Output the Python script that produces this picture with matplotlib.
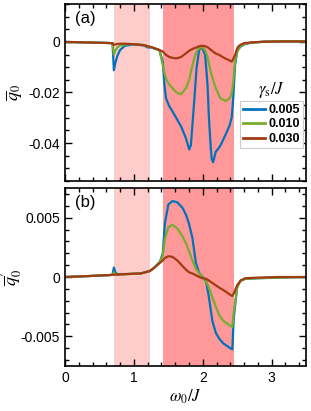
import matplotlib
matplotlib.use("Agg")
import matplotlib.pyplot as plt
from matplotlib.ticker import MultipleLocator, FixedLocator, FixedFormatter

plt.rcParams['font.family'] = ['Liberation Sans', 'DejaVu Sans']
plt.rcParams['mathtext.fontset'] = 'stix'
plt.rcParams['axes.unicode_minus'] = False

gammas = ['0.005', '0.010', '0.030']
colors = ['#0072BD', '#77AC30', '#A33A12']

# shaded bands (omega_0/J)
band_light = (0.71, 1.23)
band_strong = (1.42, 2.46)

# ---------- panel (a) ----------
xa = [0, 0.3, 0.6, 0.69, 0.71, 0.73, 0.76, 0.8, 0.87, 1.0, 1.15, 1.2, 1.25, 1.37,
      1.42, 1.443, 1.467, 1.51, 1.563, 1.61, 1.66, 1.684, 1.756, 1.804, 1.828, 1.876,
      1.91, 1.948, 1.987, 2.035, 2.07, 2.09, 2.117, 2.13, 2.15, 2.19, 2.237, 2.26,
      2.33, 2.39, 2.42, 2.44, 2.47, 2.50, 2.525, 2.55, 2.6, 2.7, 2.9, 3.2, 3.5]
qa_005 = [0, -0.0002, -0.0004, -0.0005, -0.0112, -0.0085, -0.0055, -0.0032, -0.0015,
          -0.0010, -0.0014, -0.0022, -0.0022, -0.0032,
          -0.0078, -0.017, -0.0223, -0.0252, -0.0276, -0.0298, -0.0322, -0.0333, -0.0381,
          -0.0425, -0.0408, -0.0236,
          -0.0104, -0.0032, -0.0019, -0.0051, -0.017, -0.030, -0.0420, -0.0461, -0.0476,
          -0.0434, -0.0418, -0.0408,
          -0.0368, -0.0330, -0.0300, -0.0236, -0.0091, -0.0038, -0.0026, -0.0019,
          -0.0010, -0.0003, 0.0001, 0.0002, 0.0002]
qa_010 = [0, -0.0002, -0.0004, -0.0005, -0.0050, -0.0035, -0.0022, -0.0014, -0.0010,
          -0.0009, -0.0012, -0.0018, -0.0020, -0.0032,
          -0.0091, -0.0122, -0.0144, -0.0168, -0.0183, -0.0198, -0.0205, -0.0207, -0.0183,
          -0.0150, -0.0118, -0.0065,
          -0.0040, -0.0025, -0.0019, -0.0033, -0.0060, -0.0085, -0.0118, -0.0132, -0.0150,
          -0.0183, -0.0212, -0.0223,
          -0.0234, -0.0223, -0.0205, -0.0170, -0.0078, -0.0040, -0.0025, -0.0017,
          -0.0009, -0.0003, 0.0001, 0.0002, 0.0002]
qa_030 = [0, -0.0002, -0.0004, -0.0005, -0.0012, -0.0010, -0.0008, -0.0007, -0.0007,
          -0.0009, -0.0013, -0.0017, -0.0020, -0.0032,
          -0.0038, -0.0045, -0.0051, -0.0059, -0.0063, -0.0065, -0.0062, -0.0060, -0.0045,
          -0.0035, -0.0031, -0.0025,
          -0.0022, -0.0017, -0.0015, -0.0017, -0.0021, -0.0025, -0.0031, -0.0034, -0.0038,
          -0.0046, -0.0051, -0.0055,
          -0.0066, -0.0073, -0.0078, -0.0070, -0.0051, -0.0025, -0.0016, -0.0011,
          -0.0005, -0.0002, 0.0001, 0.0002, 0.0002]

# ---------- panel (b) ----------
xb = [0, 0.3, 0.6, 0.69, 0.71, 0.73, 0.76, 0.9, 1.1, 1.23, 1.3, 1.38, 1.42, 1.45,
      1.5, 1.56, 1.63, 1.71, 1.76, 1.80, 1.85, 1.9, 1.95, 2.0, 2.05, 2.09, 2.14, 2.19,
      2.24, 2.3, 2.4, 2.43, 2.45, 2.5, 2.55, 2.62, 2.8, 3.1, 3.5]
qb_005 = [0, 0.00007, 0.00015, 0.00018, 0.0008, 0.0004, 0.00025, 0.00025, 0.0003,
          0.0005, 0.0008, 0.0013, 0.0020, 0.0045,
          0.0061, 0.0064, 0.0063, 0.0058, 0.0052, 0.0045, 0.0033, 0.0012, 0.0003, 0.0,
          -0.0004, -0.0017, -0.0037, -0.0047,
          -0.0052, -0.0056, -0.0060, -0.0061, -0.0035, -0.0008, -0.0003, -0.00015,
          -0.0001, -0.00005, 0.0]
qb_010 = [0, 0.00007, 0.00015, 0.00018, 0.0004, 0.00025, 0.0002, 0.00025, 0.0003,
          0.0005, 0.0008, 0.0013, 0.0018, 0.0032,
          0.0042, 0.0044, 0.0041, 0.0034, 0.0028, 0.0022, 0.0014, 0.0007, 0.0003, 0.0,
          -0.0004, -0.0009, -0.0017, -0.0025,
          -0.0032, -0.0037, -0.0041, -0.0042, -0.0030, -0.0009, -0.0003, -0.00015,
          -0.0001, -0.00005, 0.0]
qb_030 = [0, 0.00007, 0.00015, 0.00018, 0.0002, 0.0002, 0.0002, 0.00025, 0.0003,
          0.0005, 0.0008, 0.0012, 0.0014, 0.0016,
          0.00175, 0.0017, 0.0014, 0.0009, 0.0006, 0.0004, 0.0003, 0.00015, 0.0, -0.0001,
          -0.00015, -0.0003, -0.0005, -0.0007,
          -0.0009, -0.0011, -0.0015, -0.0016, -0.0014, -0.0007, -0.0003, -0.0001,
          -0.00005, 0.0, 0.0]

fig = plt.figure(figsize=(3.11, 4.11), dpi=100)
axa = fig.add_axes([0.209, 0.5596, 0.775, 0.4307])
axb = fig.add_axes([0.209, 0.1095, 0.775, 0.433])

for ax in (axa, axb):
    ax.axvspan(*band_light, color='#FFCCCC', lw=0, zorder=0)
    ax.axvspan(*band_strong, color='#FF9999', lw=0, zorder=0)
    ax.set_xlim(0, 3.5)
    ax.xaxis.set_major_locator(MultipleLocator(1))
    ax.xaxis.set_minor_locator(MultipleLocator(0.2))
    ax.tick_params(which='both', direction='in', top=True, right=True,
                   labelsize=10, width=1)
    ax.tick_params(which='major', length=5)
    ax.tick_params(which='minor', length=3)
    for s in ax.spines.values():
        s.set_linewidth(1.2)

for q, c, g in zip([qa_005, qa_010, qa_030], colors, gammas):
    axa.plot(xa, q, color=c, lw=1.6, label=g)
for q, c in zip([qb_005, qb_010, qb_030], colors):
    axb.plot(xb, q, color=c, lw=1.6)

axa.set_ylim(-0.055, 0.015)
axa.yaxis.set_major_locator(FixedLocator([0, -0.02, -0.04]))
axa.yaxis.set_major_formatter(FixedFormatter(['0', '-0.02', '-0.04']))
axa.yaxis.set_minor_locator(MultipleLocator(0.005))
axa.tick_params(axis='x', labelbottom=False)
axa.set_ylabel(r'$\overline{q}_0$', fontsize=13)
axa.yaxis.set_label_coords(-0.17, 0.5)
axa.text(0.04, 0.96, '(a)', transform=axa.transAxes, fontsize=12, va='top', ha='left')

axb.set_ylim(-0.0075, 0.0075)
axb.yaxis.set_major_locator(FixedLocator([0.005, 0, -0.005]))
axb.yaxis.set_major_formatter(FixedFormatter(['0.005', '0', '-0.005']))
axb.yaxis.set_minor_locator(MultipleLocator(0.001))
axb.set_ylabel(r"$\overline{q}_0^{\prime}$", fontsize=13)
axb.yaxis.set_label_coords(-0.17, 0.5)
axb.set_xlabel(r'$\omega_0/J$', fontsize=12, labelpad=2)
axb.text(0.04, 0.96, '(b)', transform=axb.transAxes, fontsize=12, va='top', ha='left')

leg = axa.legend(loc='lower right', bbox_to_anchor=(0.988, 0.186), fontsize=9,
                 frameon=True, fancybox=False, handlelength=1.8, handletextpad=0.25,
                 borderpad=0.25, labelspacing=0.2, borderaxespad=0)
leg.get_frame().set_edgecolor('#cccccc')
leg.get_frame().set_linewidth(0.8)
leg.get_frame().set_alpha(1)
for t in leg.get_texts():
    t.set_fontweight('bold')
for h in leg.get_lines():
    h.set_linewidth(2)
axa.text(0.855, 0.515, r'$\gamma_{\rm s}/J$', transform=axa.transAxes, fontsize=12,
         ha='center', va='center')

fig.savefig('out.png', dpi=100)
